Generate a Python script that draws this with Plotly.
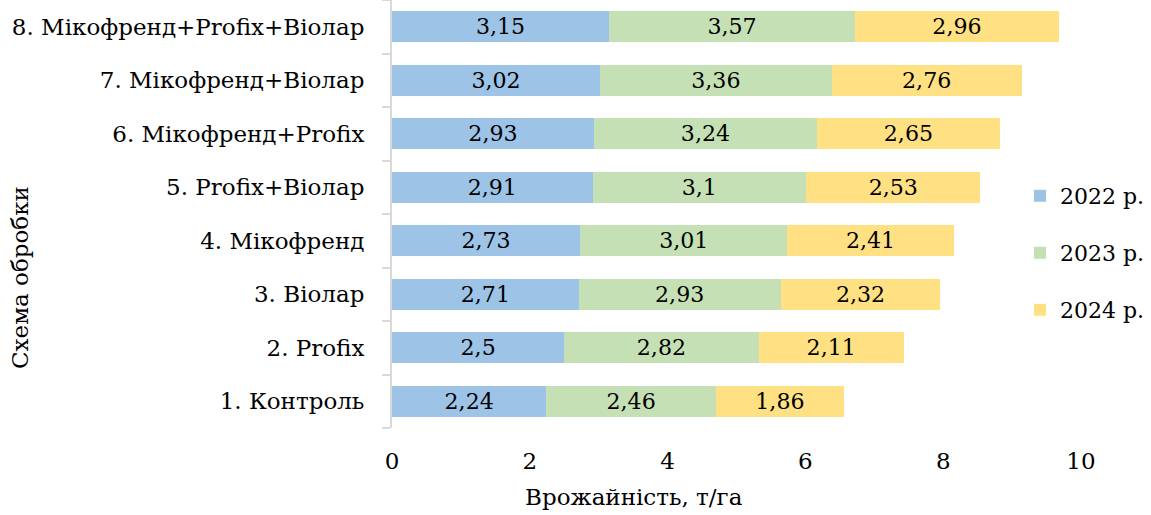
import plotly.graph_objects as go

categories = ["1. Контроль", "2. Profix", "3. Віолар", "4. Мікофренд",
              "5. Profix+Віолар", "6. Мікофренд+Profix",
              "7. Мікофренд+Віолар", "8. Мікофренд+Profix+Віолар"]
v2022 = [2.24, 2.50, 2.71, 2.73, 2.91, 2.93, 3.02, 3.15]
v2023 = [2.46, 2.82, 2.93, 3.01, 3.10, 3.24, 3.36, 3.57]
v2024 = [1.86, 2.11, 2.32, 2.41, 2.53, 2.65, 2.76, 2.96]
series_names = ["2022 р.", "2023 р.", "2024 р."]
colors = ["#9DC3E6", "#C5E0B4", "#FFE083"]
x_ticks = [0, 2, 4, 6, 8, 10]

FONT = "DejaVu Serif"
FS = 23

def fmt(v):
    s = ("%.2f" % v).rstrip("0").rstrip(".")
    return s.replace(".", ",")

fig = go.Figure()
legend_ids = ["legend", "legend2", "legend3"]
for name, vals, col, lg in zip(series_names, [v2022, v2023, v2024], colors, legend_ids):
    fig.add_trace(go.Bar(
        y=categories, x=vals, name=name, orientation="h",
        marker=dict(color=col, line=dict(width=0)),
        text=[fmt(v) for v in vals], textposition="inside",
        insidetextanchor="middle", textangle=0,
        textfont=dict(family=FONT, size=FS, color="black"),
        hoverinfo="x+name", legend=lg,
    ))

H_PLOT = 428
def leg(ypx):
    return dict(x=(1150 - 392) / 689, y=(H_PLOT - ypx) / H_PLOT, xanchor="right",
                yanchor="middle", font=dict(family=FONT, size=22),
                bgcolor="rgba(0,0,0,0)", itemwidth=30)

fig.update_layout(
    barmode="stack", bargap=0.42,
    width=1151, height=515,
    margin=dict(l=392, r=70, t=0, b=87),
    paper_bgcolor="white", plot_bgcolor="white",
    font=dict(family=FONT, size=FS, color="black"),
    showlegend=True,
    legend=leg(196), legend2=leg(253), legend3=leg(310),
    uniformtext=dict(mode="show", minsize=10),
    xaxis=dict(range=[0, 10], tickvals=x_ticks, ticktext=[str(t) for t in x_ticks],
               showgrid=False, zeroline=False, showline=False, ticks="",
               ticklabelstandoff=17, tickfont=dict(family=FONT, size=FS)),
    yaxis=dict(categoryorder="array", categoryarray=categories,
               showgrid=False, zeroline=False, showline=True,
               linecolor="#D9D9D9", linewidth=2, ticks="outside",
               tickson="boundaries", ticklen=8, tickcolor="#D9D9D9",
               tickwidth=2, ticklabelstandoff=21,
               tickfont=dict(family=FONT, size=FS)),
    annotations=[
        dict(text="Врожайність, т/га", xref="paper", yref="paper",
             x=(634 - 392) / 689, y=(H_PLOT - 497) / H_PLOT, xanchor="center",
             yanchor="middle", showarrow=False,
             font=dict(family=FONT, size=FS)),
        dict(text="Схема обробки", xref="paper", yref="paper",
             x=(20 - 392) / 689, y=(H_PLOT - 277) / H_PLOT, xanchor="center",
             yanchor="middle", textangle=-90, showarrow=False,
             font=dict(family=FONT, size=FS)),
    ],
)

fig.write_html("out.html", post_script="document.body.style.margin='0';",
               config={"displayModeBar": False})
